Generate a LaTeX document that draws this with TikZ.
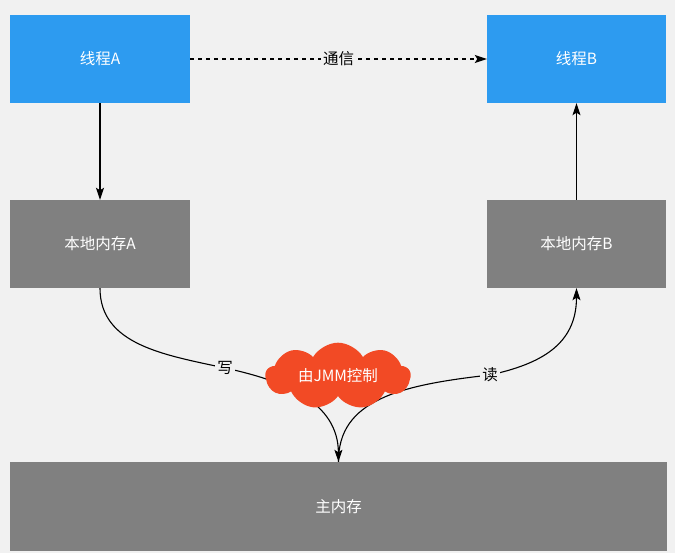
\documentclass[tikz,border=0pt]{standalone}
\usepackage{fontspec}
\setmainfont{Noto Sans CJK SC}
\usetikzlibrary{shapes.symbols,arrows.meta}
\definecolor{bg}{HTML}{F1F1F1}
\definecolor{tblue}{HTML}{2D9BF0}
\definecolor{mgray}{HTML}{808080}
\definecolor{cred}{HTML}{F24A25}
\begin{document}
\begin{tikzpicture}[x=1pt,y=-1pt,
  font=\fontsize{15.5}{18}\selectfont,
  box/.style={rectangle, inner sep=0pt, text=white, minimum width=180pt, minimum height=88pt},
  arr/.style={line width=1.1pt, -{Stealth[length=12pt,width=8pt,inset=2.5pt]}},
  lbl/.style={fill=bg, inner sep=2pt, text=black},
  jmm/.style={cloud, cloud puffs=9, cloud puff arc=120, aspect=2.4, fill=cred, text=white,
    minimum width=145pt, minimum height=64pt, inner sep=0pt}]
\fill[bg] (0,0) rectangle (675,553);
\useasboundingbox (0,0) rectangle (675,553);
\node[box, fill=tblue] (ta) at (100,59) {线程A};
\node[box, fill=tblue, minimum width=179pt] (tb) at (576.5,59) {线程B};
\node[box, fill=mgray] (la) at (100,244) {本地内存A};
\node[box, fill=mgray, minimum width=179pt] (lb) at (576.5,244) {本地内存B};
\node[box, fill=mgray, minimum width=657pt, minimum height=89pt] (mm) at (338.5,506.5) {主内存};
\draw[arr] (ta.south) -- (la.north);
\draw[arr] (lb.north) -- (tb.south);
\draw[arr, dash pattern=on 4pt off 4pt] (ta.east) -- node[lbl]{通信} (tb.west);
\draw[arr] (la.south) .. controls (100,345) and (165,355) .. (225,368) node[lbl]{写}
  .. controls (285,381) and (338,402) .. (mm.north);
\draw[arr] (mm.north) .. controls (338,400) and (400,385) .. (490,375) node[lbl]{读}
  .. controls (540,364) and (576.5,345) .. (lb.south);
\node[jmm] (c) at (338,376) {由JMM控制};
\end{tikzpicture}
\end{document}
